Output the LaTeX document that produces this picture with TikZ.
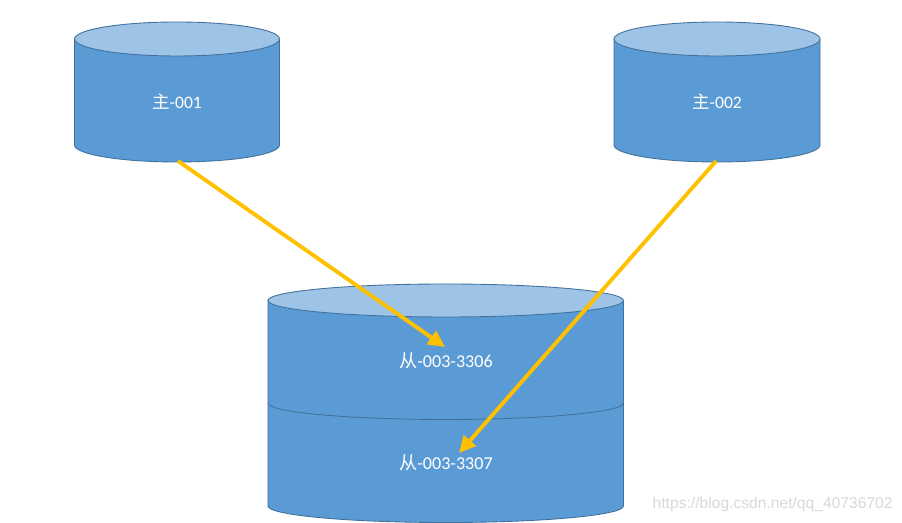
\documentclass[tikz,border=0pt]{standalone}
\usepackage{fontspec}
\setmainfont{Carlito}
\newfontfamily\cjkfont{Noto Sans CJK SC}
\newfontfamily\urlfont{Liberation Sans}
\usetikzlibrary{arrows.meta,positioning}
\definecolor{dbside}{HTML}{5B9BD5}
\definecolor{dbtop}{HTML}{9DC3E6}
\definecolor{dbedge}{HTML}{41719C}
\definecolor{link}{HTML}{FFC000}

% cylinder: #1 left x, #2 right x, #3 top centre y, #4 bottom centre y, #5 y radius
\newcommand{\dbcyl}[5]{
  \filldraw[dbbody] (#1,#3) -- (#1,#4) arc[start angle=180,end angle=360,x radius={(#2-#1)/2},y radius=#5] -- (#2,#3) -- cycle;
  \filldraw[dblid] ({(#1+#2)/2},#3) ellipse[x radius={(#2-#1)/2},y radius=#5];
}

\begin{document}
\begin{tikzpicture}
[x=0.02cm,y=0.02cm,
 dbbody/.style={fill=dbside,draw=dbedge,line width=0.5pt},
 dblid/.style={fill=dbtop,draw=dbedge,line width=0.5pt},
 dblabel/.style={text=white,font=\fontsize{10}{12}\selectfont,inner sep=1pt},
 sync/.style={draw=link,line width=2.2pt,-{Triangle[length=9.5pt,width=9pt]}}]
\useasboundingbox[fill=white] (0,0) rectangle (902,523);

% masters
\dbcyl{74.5}{279.5}{484}{378}{17}
\dbcyl{614}{820}{484}{378}{17}

% slave, two instances
\filldraw[dbbody] (268,120) -- (268,17) arc[start angle=180,end angle=360,x radius=177.75,y radius=16.5] -- (623.5,120) -- cycle;
\filldraw[dbbody] (268,222.5) -- (268,120) arc[start angle=180,end angle=360,x radius=177.75,y radius=16.5] -- (623.5,222.5) -- cycle;
\filldraw[dblid] (445.75,222.5) ellipse[x radius=177.75,y radius=16.5];

\node[dblabel] (m1) at (177,421) {{\cjkfont 主}-001};
\node[dblabel] (m2) at (717,421) {{\cjkfont 主}-002};
\node[dblabel,font=\fontsize{10.3}{12}\selectfont] (s1) at (446,162) {{\cjkfont 从}-003-3306};
\node[dblabel,font=\fontsize{10.3}{12}\selectfont] (s2) at (446,60) {{\cjkfont 从}-003-3307};

\coordinate (m1b) at (178,362);
\coordinate (m2b) at (716,362);
\coordinate (s1t) at (445,176);
\coordinate (s2t) at (459,70);

\draw[sync] (m1b) -- (s1t);
\draw[sync] (m2b) -- (s2t);

\node[anchor=east,inner sep=0pt,text=black!15,font=\urlfont\fontsize{8.9}{10}\selectfont] (mark) at (893,19) {https://blog.csdn.net/qq\_40736702};
\end{tikzpicture}
\end{document}
